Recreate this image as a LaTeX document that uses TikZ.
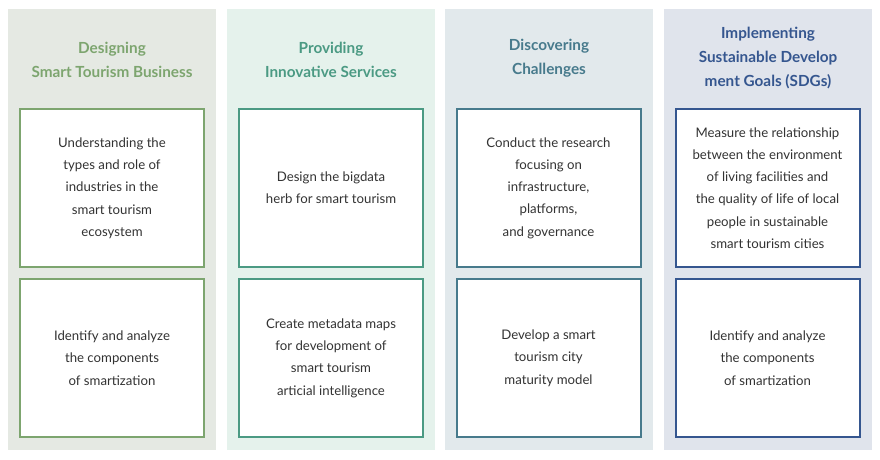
\documentclass[tikz,border=0pt]{standalone}
\usepackage{fontspec}
\setmainfont{Lato}
\definecolor{bgone}{HTML}{E5E9E3}
\definecolor{bgtwo}{HTML}{E5F2EC}
\definecolor{bgthree}{HTML}{E2E9EC}
\definecolor{bgfour}{HTML}{E0E4EC}
\definecolor{lineone}{HTML}{7DA56F}
\definecolor{linetwo}{HTML}{4B9A83}
\definecolor{linethree}{HTML}{477A8C}
\definecolor{linefour}{HTML}{35568F}
\definecolor{bodytext}{HTML}{333333}
\begin{document}
\begin{tikzpicture}[x=1pt, y=-1pt,
  column/.style={rectangle, inner sep=0pt, outer sep=0pt, minimum width=208pt, minimum height=441pt},
  header/.style={align=center, font=\fontsize{15.3}{24}\selectfont\bfseries},
  item/.style={rectangle, draw=#1, line width=2pt, fill=white, inner sep=0pt, outer sep=0pt,
    minimum width=184pt, minimum height=158pt, align=center, text=bodytext,
    font=\fontsize{13.2}{22.3}\selectfont}]
  \useasboundingbox (0,0) rectangle (880,460);

  % columns
  \node[column, fill=bgone]   (colone)   at (112,229.5) {};
  \node[column, fill=bgtwo]   (coltwo)   at (331,229.5) {};
  \node[column, fill=bgthree] (colthree) at (549,229.5) {};
  \node[column, fill=bgfour]  (colfour)  at (768,229.5) {};

  % headers
  \node[header, text=lineone]   (headone)   at (112,60) {Designing\\Smart Tourism Business};
  \node[header, text=linetwo]   (headtwo)   at (331,60) {Providing\\Innovative Services};
  \node[header, text=linethree] (headthree) at (549,58) {Discovering\\Challenges};
  \node[header, text=linefour]  (headfour)  at (768,58) {Implementing\\Sustainable Develop\\ment Goals (SDGs)};

  % upper boxes
  \node[item=lineone]   (upone)   at (112,188) {Understanding the\\types and role of\\industries in the\\smart tourism\\ecosystem};
  \node[item=linetwo]   (uptwo)   at (331,188) {Design the bigdata\\herb for smart tourism};
  \node[item=linethree] (upthree) at (548.5,188) {Conduct the research\\focusing on\\infrastructure,\\platforms,\\and governance};
  \node[item=linefour]  (upfour)  at (767.5,188) {Measure the relationship\\between the environment\\of living facilities and\\the quality of life of local\\people in sustainable\\smart tourism cities};

  % lower boxes
  \node[item=lineone]   (lowone)   at (112,358) {Identify and analyze\\the components\\of smartization};
  \node[item=linetwo]   (lowtwo)   at (331,358) {Create metadata maps\\for development of\\smart tourism\\articial intelligence};
  \node[item=linethree] (lowthree) at (548.5,358) {Develop a smart\\tourism city\\maturity model};
  \node[item=linefour]  (lowfour)  at (767.5,358) {Identify and analyze\\the components\\of smartization};
\end{tikzpicture}
\end{document}
